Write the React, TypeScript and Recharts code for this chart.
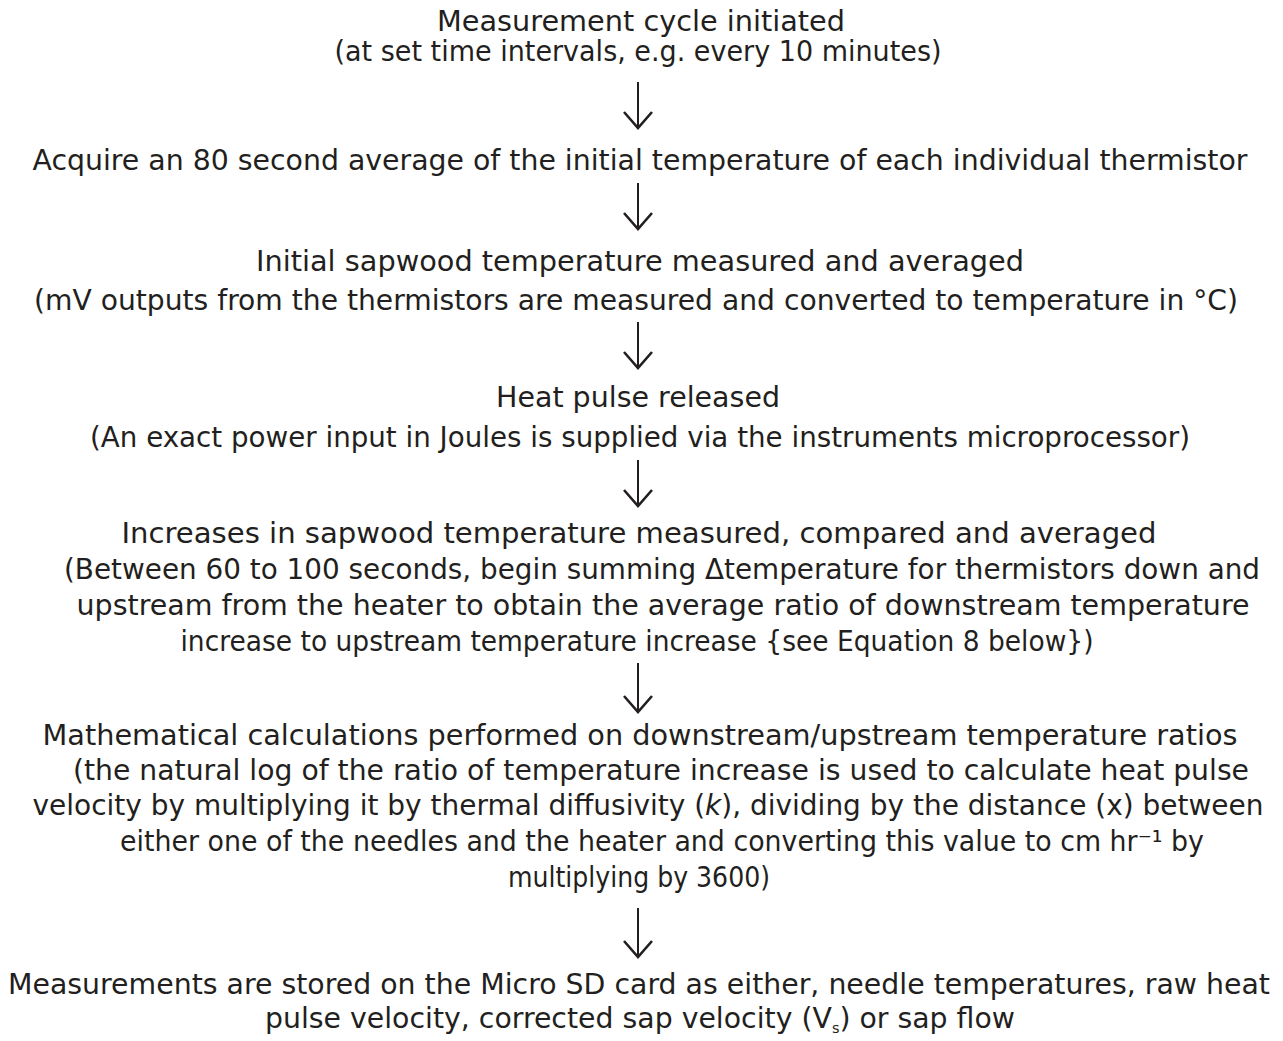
import React from 'react';
import { ScatterChart, Scatter, XAxis, YAxis, ReferenceLine } from 'recharts';

const W = 1283;
const H = 1041;
const TEXT_COLOR = '#231f20';
const FONT = "'DejaVu Sans', sans-serif";

type Seg = { t: string; k?: 'sub' | 'it' };

// Flowchart text lines (segments allow italics / subscripts)
const lineSegments: Seg[][] = [
  [{ t: 'Measurement cycle initiated' }],
  [{ t: '(at set time intervals, e.g. every 10 minutes)' }],
  [{ t: 'Acquire an 80 second average of the initial temperature of each individual thermistor' }],
  [{ t: 'Initial sapwood temperature measured and averaged' }],
  [{ t: '(mV outputs from the thermistors are measured and converted to temperature in \u00B0C)' }],
  [{ t: 'Heat pulse released' }],
  [{ t: '(An exact power input in Joules is supplied via the instruments microprocessor)' }],
  [{ t: 'Increases in sapwood temperature measured, compared and averaged' }],
  [{ t: '(Between 60 to 100 seconds, begin summing \u0394temperature for thermistors down and' }],
  [{ t: 'upstream from the heater to obtain the average ratio of downstream temperature' }],
  [{ t: 'increase to upstream temperature increase {see Equation 8 below})' }],
  [{ t: 'Mathematical calculations performed on downstream/upstream temperature ratios' }],
  [{ t: '(the natural log of the ratio of temperature increase is used to calculate heat pulse' }],
  [
    { t: 'velocity by multiplying it by thermal diffusivity (' },
    { t: 'k', k: 'it' },
    { t: '), dividing by the distance (x) between' },
  ],
  [{ t: 'either one of the needles and the heater and converting this value to cm hr\u207B\u00B9 by' }],
  [{ t: 'multiplying by 3600)' }],
  [{ t: 'Measurements are stored on the Micro SD card as either, needle temperatures, raw heat' }],
  [
    { t: 'pulse velocity, corrected sap velocity (V' },
    { t: 's', k: 'sub' },
    { t: ') or sap flow' },
  ],
];

const lineCenters = [641, 638, 640, 640, 636, 638, 640, 639, 662, 663, 637, 640, 661, 648, 662, 639, 639, 640];
const lineBaselines = [31, 61, 170, 271, 310, 407, 447, 543, 579, 615, 651, 745, 780, 815, 851, 887, 994, 1028];
// measured line widths in the reference
const lineWidths = [408, 607, 1215, 768, 1204, 284, 1100, 1035, 1196, 1173, 913, 1195, 1176, 1231, 1084, 262, 1262, 750];

// Arrows: shaft top and arrow tip
const arrowX = 638;
const arrowTops = [82, 183, 322, 460, 663, 908];
const arrowTips = [128, 229, 368, 506, 712, 957];

const textData = lineSegments.map((segs, i) => ({
  x: lineCenters[i],
  y: lineBaselines[i],
  idx: i,
}));

const tipData = arrowTips.map((tip, i) => ({ x: arrowX, y: tip, idx: i }));

const renderLine = (props: any) => {
  const { cx, cy, payload } = props;
  const i = payload.idx;
  const segs = lineSegments[i];
  let shift = 0;
  const children = segs.map((s, j) => {
    const target = s.k === 'sub' ? 5 : 0;
    const dy = target - shift;
    shift = target;
    return (
      <tspan
        key={j}
        dy={dy}
        fontSize={s.k === 'sub' ? 14 : undefined}
        fontStyle={s.k === 'it' ? 'italic' : undefined}
      >
        {s.t}
      </tspan>
    );
  });
  const w = lineWidths[i];
  return (
    <text
      x={cx}
      y={cy}
      textAnchor="middle"
      fontFamily={FONT}
      fontSize={27.5}
      fill={TEXT_COLOR}
      {...(w > 0 ? { textLength: w, lengthAdjust: 'spacingAndGlyphs' } : {})}
    >
      {children}
    </text>
  );
};

const renderHead = (props: any) => {
  const { cx, cy } = props;
  return (
    <path
      d={`M${cx - 14},${cy - 16} L${cx},${cy} L${cx + 14},${cy - 16}`}
      fill="none"
      stroke={TEXT_COLOR}
      strokeWidth={2.6}
      strokeLinejoin="miter"
    />
  );
};

export default function App() {
  return (
    <div style={{ marginLeft: -8, marginTop: -8, width: W, height: H, background: '#fff' }}>
      <ScatterChart width={W} height={H} margin={{ top: 0, right: 0, bottom: 0, left: 0 }}>
        <XAxis dataKey="x" type="number" domain={[0, W]} hide />
        <YAxis dataKey="y" type="number" domain={[0, H]} reversed hide />
        {arrowTops.map((top, i) => (
          <ReferenceLine
            key={`shaft-${i}`}
            segment={[
              { x: arrowX, y: top },
              { x: arrowX, y: arrowTips[i] },
            ]}
            stroke={TEXT_COLOR}
            strokeWidth={2}
          />
        ))}
        <Scatter data={tipData} shape={renderHead} isAnimationActive={false} />
        <Scatter data={textData} shape={renderLine} isAnimationActive={false} />
      </ScatterChart>
    </div>
  );
}
